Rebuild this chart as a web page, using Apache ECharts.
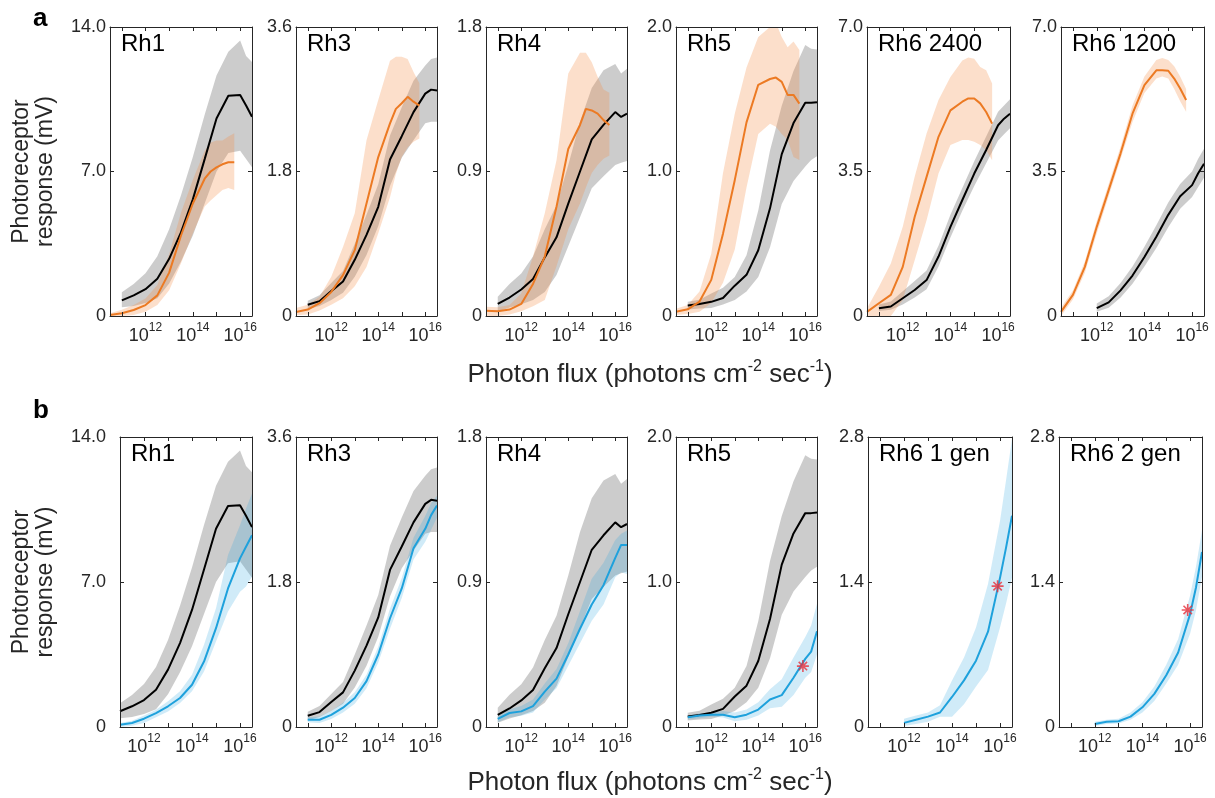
<!DOCTYPE html>
<html><head><meta charset="utf-8">
<script src="https://cdn.jsdelivr.net/npm/echarts@6/dist/echarts.min.js"></script>
<style>html,body{margin:0;padding:0;background:#fff}#c{width:1215px;height:798px}</style>
</head><body><div id="c"></div><script>
// ---------- x positions (log10 of photon flux) ----------
const X_BLACK  = [11, 11.5, 12, 12.5, 13, 13.5, 14, 14.5, 15, 15.5, 16, 16.25, 16.5];
const X_ORANGE = [10.5, 11, 11.5, 12, 12.5, 13, 13.5, 14, 14.5, 14.75, 15, 15.25, 15.5, 15.75];
const X_BLUE   = [11, 11.5, 12, 12.5, 13, 13.5, 14, 14.5, 15, 15.5, 16, 16.25, 16.5];
const X_RH6_12 = [12, 12.5, 13, 13.5, 14, 14.5, 15, 15.5, 16, 16.25, 16.5];
const X_TICKS = [11, 12, 13, 14, 15, 16];
const X_LABELS = [12, 14, 16];

// ---------- control (black) ----------
const RH1_K    = [0.76, 1.0, 1.3, 1.8, 2.77, 4.05, 5.65, 7.6, 9.57, 10.67, 10.7, 10.2, 9.65];
const RH1_K_HI = [1.15, 1.55, 2.07, 2.9, 4.2, 5.85, 7.7, 9.75, 11.65, 12.8, 13.35, 12.6, 12.3];
const RH1_K_LO = [0.42, 0.48, 0.63, 0.86, 1.58, 2.64, 3.9, 5.45, 7.0, 7.9, 8.0, 7.6, 7.2];
const RH3_K    = [0.14, 0.185, 0.31, 0.43, 0.7, 1.01, 1.36, 1.95, 2.24, 2.54, 2.77, 2.82, 2.81];
const RH3_K_HI = [0.19, 0.26, 0.41, 0.56, 0.9, 1.26, 1.64, 2.25, 2.6, 2.93, 3.12, 3.2, 3.22];
const RH3_K_LO = [0.085, 0.125, 0.2, 0.29, 0.49, 0.76, 1.12, 1.62, 1.97, 2.19, 2.4, 2.42, 2.42];
const RH4_K    = [0.075, 0.115, 0.165, 0.23, 0.365, 0.49, 0.7, 0.9, 1.1, 1.19, 1.27, 1.24, 1.26];
const RH4_K_HI = [0.12, 0.2, 0.265, 0.37, 0.54, 0.69, 0.94, 1.21, 1.42, 1.53, 1.57, 1.51, 1.54];
const RH4_K_LO = [0.026, 0.053, 0.073, 0.1, 0.15, 0.255, 0.435, 0.615, 0.795, 0.87, 0.94, 0.955, 0.965];
const RH5_K    = [0.072, 0.083, 0.098, 0.125, 0.21, 0.285, 0.455, 0.745, 1.12, 1.335, 1.475, 1.475, 1.48];
const RH5_K_HI = [0.098, 0.112, 0.155, 0.195, 0.27, 0.42, 0.73, 1.145, 1.455, 1.695, 1.875, 1.85, 1.845];
const RH5_K_LO = [0.045, 0.052, 0.056, 0.08, 0.11, 0.17, 0.27, 0.475, 0.775, 0.935, 1.035, 1.08, 1.105];
const RH6A_K    = [0.19, 0.23, 0.43, 0.63, 0.87, 1.44, 2.16, 2.81, 3.45, 4.02, 4.62, 4.78, 4.9];
const RH6A_K_HI = [0.28, 0.35, 0.6, 0.85, 1.1, 1.7, 2.45, 3.1, 3.75, 4.35, 4.95, 5.1, 5.25];
const RH6A_K_LO = [0.12, 0.15, 0.28, 0.45, 0.65, 1.2, 1.9, 2.55, 3.15, 3.7, 4.25, 4.4, 4.55];
const RH6B_K    = [0.19, 0.33, 0.62, 0.98, 1.43, 1.92, 2.45, 2.9, 3.17, 3.45, 3.69];
const RH6B_K_HI = [0.3, 0.48, 0.8, 1.2, 1.68, 2.2, 2.75, 3.2, 3.5, 3.8, 4.05];
const RH6B_K_LO = [0.1, 0.2, 0.45, 0.78, 1.2, 1.65, 2.15, 2.6, 2.88, 3.12, 3.35];

// ---------- panel a (orange) ----------
const RH1_O    = [0.05, 0.13, 0.29, 0.53, 1.0, 2.1, 3.9, 5.45, 6.65, 7.0, 7.2, 7.35, 7.45, 7.45];
const RH1_O_HI = [0.13, 0.3, 0.53, 0.85, 1.5, 3.0, 5.0, 6.6, 8.0, 8.4, 8.5, 8.5, 8.7, 8.85];
const RH1_O_LO = [0, 0, 0.05, 0.2, 0.53, 1.25, 2.55, 4.0, 5.3, 5.6, 5.85, 6.1, 6.2, 6.1];
const RH3_O    = [0.05, 0.08, 0.16, 0.3, 0.51, 0.82, 1.4, 1.98, 2.4, 2.58, 2.65, 2.73, 2.67, 2.62];
const RH3_O_HI = [0.1, 0.14, 0.24, 0.49, 0.86, 1.28, 2.19, 2.69, 3.18, 3.23, 3.23, 3.2, 3.04, 2.9];
const RH3_O_LO = [0.01, 0.02, 0.07, 0.14, 0.22, 0.37, 0.61, 1.03, 1.48, 1.77, 1.98, 2.1, 2.17, 2.21];
const RH4_O    = [0.033, 0.03, 0.04, 0.075, 0.2, 0.37, 0.68, 1.04, 1.19, 1.29, 1.28, 1.26, 1.22, 1.19];
const RH4_O_HI = [0.058, 0.054, 0.068, 0.14, 0.37, 0.64, 0.97, 1.51, 1.64, 1.64, 1.58, 1.49, 1.41, 1.39];
const RH4_O_LO = [0, 0, 0.01, 0.03, 0.06, 0.1, 0.31, 0.54, 0.7, 0.8, 0.89, 0.94, 0.98, 1.0];
const RH5_O    = [0.03, 0.046, 0.1, 0.25, 0.57, 0.94, 1.34, 1.6, 1.64, 1.65, 1.62, 1.53, 1.53, 1.47];
const RH5_O_HI = [0.05, 0.076, 0.17, 0.43, 0.99, 1.4, 1.72, 1.93, 2.0, 2.03, 1.93, 1.86, 1.9, 1.84];
const RH5_O_LO = [0.007, 0.014, 0.03, 0.09, 0.23, 0.46, 0.89, 1.26, 1.33, 1.31, 1.26, 1.22, 1.1, 1.08];
const RH6A_O    = [0.1, 0.31, 0.51, 1.19, 2.4, 3.37, 4.34, 4.98, 5.19, 5.27, 5.27, 5.15, 4.94, 4.66];
const RH6A_O_HI = [0.19, 0.71, 1.27, 2.16, 3.37, 4.42, 5.23, 5.79, 6.19, 6.26, 6.23, 6.03, 5.95, 5.63];
const RH6A_O_LO = [0, 0, 0, 0.39, 1.35, 2.32, 3.45, 4.14, 4.26, 4.26, 4.22, 4.14, 4.02, 3.77];
const RH6B_O    = [0.1, 0.51, 1.19, 2.16, 3.05, 3.94, 4.9, 5.59, 5.95, 5.95, 5.94, 5.75, 5.51, 5.23];
const RH6B_O_HI = [0.2, 0.62, 1.32, 2.3, 3.2, 4.1, 5.1, 5.8, 6.2, 6.25, 6.2, 6.05, 5.8, 5.5];
const RH6B_O_LO = [0.0, 0.4, 1.05, 2.0, 2.9, 3.8, 4.7, 5.4, 5.75, 5.8, 5.75, 5.5, 5.2, 4.95];

// ---------- panel b (blue) ----------
const RH1_B    = [0.11, 0.19, 0.4, 0.67, 1.0, 1.4, 2.04, 3.16, 4.77, 6.69, 8.14, 8.7, 9.26];
const RH1_B_HI = [0.19, 0.3, 0.56, 0.83, 1.24, 1.72, 2.52, 3.97, 5.73, 8.3, 9.74, 10.55, 11.27];
const RH1_B_LO = [0, 0.06, 0.19, 0.47, 0.75, 1.16, 1.72, 2.68, 4.13, 5.57, 6.53, 6.78, 7.26];
const RH3_B    = [0.09, 0.09, 0.15, 0.24, 0.36, 0.57, 0.9, 1.35, 1.72, 2.22, 2.46, 2.63, 2.75];
const RH3_B_HI = [0.12, 0.13, 0.2, 0.3, 0.43, 0.65, 1.0, 1.47, 1.85, 2.35, 2.62, 2.78, 2.87];
const RH3_B_LO = [0.06, 0.05, 0.1, 0.18, 0.29, 0.48, 0.8, 1.22, 1.6, 2.08, 2.3, 2.45, 2.6];
const RH4_B    = [0.05, 0.087, 0.097, 0.13, 0.22, 0.3, 0.45, 0.61, 0.76, 0.88, 1.05, 1.13, 1.13];
const RH4_B_HI = [0.07, 0.11, 0.13, 0.17, 0.27, 0.36, 0.52, 0.72, 0.92, 1.02, 1.16, 1.2, 1.22];
const RH4_B_LO = [0.03, 0.06, 0.07, 0.09, 0.17, 0.24, 0.38, 0.52, 0.66, 0.76, 0.93, 0.96, 0.95];
const RH5_B    = [0.067, 0.08, 0.085, 0.085, 0.067, 0.085, 0.12, 0.19, 0.22, 0.34, 0.47, 0.52, 0.66];
const RH5_B_HI = [0.08, 0.095, 0.1, 0.11, 0.1, 0.12, 0.17, 0.26, 0.33, 0.48, 0.62, 0.7, 0.85];
const RH5_B_LO = [0.05, 0.06, 0.07, 0.065, 0.04, 0.05, 0.08, 0.13, 0.14, 0.22, 0.34, 0.38, 0.5];
const RH6G1_B    = [0.04, 0.07, 0.1, 0.14, 0.29, 0.45, 0.64, 0.92, 1.44, 1.73, 2.04];
const RH6G1_B_HI = [0.08, 0.11, 0.14, 0.21, 0.45, 0.67, 0.96, 1.38, 1.99, 2.38, 2.78];
const RH6G1_B_LO = [0.01, 0.03, 0.05, 0.1, 0.1, 0.22, 0.39, 0.55, 0.96, 1.19, 1.44];
const RH6G2_B    = [0.03, 0.05, 0.055, 0.1, 0.19, 0.32, 0.5, 0.72, 1.09, 1.35, 1.69];
const RH6G2_B_HI = [0.05, 0.07, 0.08, 0.14, 0.24, 0.39, 0.6, 0.85, 1.27, 1.55, 1.9];
const RH6G2_B_LO = [0.01, 0.03, 0.035, 0.07, 0.14, 0.25, 0.42, 0.6, 0.9, 1.13, 1.45];

// red asterisks [log10 flux, mV]
const STAR_RH5 = [15.9, 0.42];
const STAR_RH6G1 = [15.9, 1.36];
const STAR_RH6G2 = [15.9, 1.13];

const TITLES_A = ['Rh1', 'Rh3', 'Rh4', 'Rh5', 'Rh6 2400', 'Rh6 1200'];
const TITLES_B = ['Rh1', 'Rh3', 'Rh4', 'Rh5', 'Rh6 1 gen', 'Rh6 2 gen'];
const Y_MAX_A = [14, 3.6, 1.8, 2.0, 7.0, 7.0];
const Y_MAX_B = [14, 3.6, 1.8, 2.0, 2.8, 2.8];

// ---------- styles / layout ----------
const FONT = '"Liberation Sans", Arial, Helvetica, sans-serif';
const TXT = '#262626';
const C = {
  black: '#000000', grayBand: 'rgba(128,128,128,0.40)',
  orange: '#EC7A23', orangeBand: 'rgba(244,140,70,0.28)',
  blue: '#1EA1DC', blueBand: 'rgba(40,165,225,0.22)', star: '#E8303A'
};
const ROWS = [{top: 27, height: 289}, {top: 437, height: 290}];
const LEFTS = [[110, 296, 486, 676, 867, 1061], [120, 296, 486, 676, 868, 1059]];
const WIDTHS = [[142, 141, 141, 141, 143, 143], [132, 141, 141, 141, 144, 143]];

const groupsA = [
  [[X_BLACK, RH1_K, RH1_K_LO, RH1_K_HI, 'k'], [X_ORANGE, RH1_O, RH1_O_LO, RH1_O_HI, 'o']],
  [[X_BLACK, RH3_K, RH3_K_LO, RH3_K_HI, 'k'], [X_ORANGE, RH3_O, RH3_O_LO, RH3_O_HI, 'o']],
  [[X_BLACK, RH4_K, RH4_K_LO, RH4_K_HI, 'k'], [X_ORANGE, RH4_O, RH4_O_LO, RH4_O_HI, 'o']],
  [[X_BLACK, RH5_K, RH5_K_LO, RH5_K_HI, 'k'], [X_ORANGE, RH5_O, RH5_O_LO, RH5_O_HI, 'o']],
  [[X_BLACK, RH6A_K, RH6A_K_LO, RH6A_K_HI, 'k'], [X_ORANGE, RH6A_O, RH6A_O_LO, RH6A_O_HI, 'o']],
  [[X_RH6_12, RH6B_K, RH6B_K_LO, RH6B_K_HI, 'k'], [X_ORANGE, RH6B_O, RH6B_O_LO, RH6B_O_HI, 'o']]
];
const groupsB = [
  [[X_BLACK, RH1_K, RH1_K_LO, RH1_K_HI, 'k'], [X_BLUE, RH1_B, RH1_B_LO, RH1_B_HI, 'b']],
  [[X_BLACK, RH3_K, RH3_K_LO, RH3_K_HI, 'k'], [X_BLUE, RH3_B, RH3_B_LO, RH3_B_HI, 'b']],
  [[X_BLACK, RH4_K, RH4_K_LO, RH4_K_HI, 'k'], [X_BLUE, RH4_B, RH4_B_LO, RH4_B_HI, 'b']],
  [[X_BLACK, RH5_K, RH5_K_LO, RH5_K_HI, 'k'], [X_BLUE, RH5_B, RH5_B_LO, RH5_B_HI, 'b']],
  [[X_RH6_12, RH6G1_B, RH6G1_B_LO, RH6G1_B_HI, 'b']],
  [[X_RH6_12, RH6G2_B, RH6G2_B_LO, RH6G2_B_HI, 'b']]
];
const starsB = [null, null, null, STAR_RH5, STAR_RH6G1, STAR_RH6G2];

const panels = [];
for (let r = 0; r < 2; r++) {
  for (let c = 0; c < 6; c++) {
    panels.push({
      row: r, left: LEFTS[r][c], width: WIDTHS[r][c],
      xmin: (r === 1 && c === 0) ? 11 : 10.5, xmax: 16.5,
      ymax: r === 0 ? Y_MAX_A[c] : Y_MAX_B[c],
      title: r === 0 ? TITLES_A[c] : TITLES_B[c],
      groups: r === 0 ? groupsA[c] : groupsB[c],
      star: r === 0 ? null : starsB[c],
      ylabMargin: (r === 1 && c === 0) ? 14 : 4
    });
  }
}

function bandSeries(xs, lo, hi, color, ax) {
  return {
    type: 'custom', xAxisIndex: ax, yAxisIndex: ax, silent: true, z: 1, animation: false,
    data: xs.map((x, k) => [x, lo[k], hi[k]]),
    encode: {x: 0, y: [1, 2]},
    renderItem: (params, api) => {
      if (params.dataIndex !== 0) return null;
      const upper = xs.map((x, k) => api.coord([x, hi[k]]));
      const lower = xs.map((x, k) => api.coord([x, lo[k]])).reverse();
      const cs = params.coordSys;
      return {
        type: 'polygon', shape: {points: upper.concat(lower)}, style: {fill: color, stroke: null},
        clipPath: {type: 'rect', shape: {x: cs.x, y: cs.y, width: cs.width, height: cs.height}}
      };
    }
  };
}

const grids = [], xAxes = [], yAxes = [], series = [], graphics = [];
const lineStyleAxis = {color: TXT, width: 1};
panels.forEach((p, i) => {
  const row = ROWS[p.row];
  grids.push({left: p.left, top: row.top, width: p.width, height: row.height, containLabel: false});
  const xBase = {gridIndex: i, type: 'value', min: p.xmin, max: p.xmax, z: 10,
    splitLine: {show: false}, axisLine: {show: true, onZero: false, lineStyle: lineStyleAxis}};
  xAxes.push(Object.assign({}, xBase, {position: 'bottom',
    axisTick: {show: true, inside: true, length: 4, customValues: X_TICKS, lineStyle: lineStyleAxis},
    axisLabel: {show: true, customValues: X_LABELS, margin: 6, color: TXT, fontFamily: FONT,
      formatter: v => '{b|10}{s|' + Math.round(v) + '}',
      rich: {b: {fontSize: 18, fontFamily: FONT, color: TXT, verticalAlign: 'bottom', lineHeight: 23},
             s: {fontSize: 12, fontFamily: FONT, color: TXT, verticalAlign: 'top', lineHeight: 23}}}}));
  xAxes.push(Object.assign({}, xBase, {position: 'top',
    axisTick: {show: true, inside: true, length: 4, customValues: X_TICKS, lineStyle: lineStyleAxis},
    axisLabel: {show: false}}));
  const yBase = {gridIndex: i, type: 'value', min: 0, max: p.ymax, interval: p.ymax / 2, z: 10,
    splitLine: {show: false}, axisLine: {show: true, onZero: false, lineStyle: lineStyleAxis},
    axisTick: {show: true, inside: true, length: 4, lineStyle: lineStyleAxis}};
  yAxes.push(Object.assign({}, yBase, {position: 'left',
    axisLabel: {show: true, margin: p.ylabMargin, color: TXT, fontSize: 18, fontFamily: FONT,
      formatter: v => (v === 0 ? '0' : v.toFixed(1))}}));
  yAxes.push(Object.assign({}, yBase, {position: 'right', axisLabel: {show: false}}));
  const ax = 2 * i;
  const bandColor = {k: C.grayBand, o: C.orangeBand, b: C.blueBand};
  const lineColor = {k: C.black, o: C.orange, b: C.blue};
  p.groups.forEach(g => {
    const [xs, , lo, hi, kind] = g;
    series.push(bandSeries(xs, lo, hi, bandColor[kind], ax));
  });
  p.groups.forEach(g => {
    const [xs, m, , , kind] = g;
    series.push({type: 'line', xAxisIndex: ax, yAxisIndex: ax, silent: true, z: 3,
      symbol: 'none', animation: false, lineStyle: {color: lineColor[kind], width: 2},
      data: xs.map((x, k) => [x, m[k]])});
  });
  if (p.star) {
    series.push({type: 'scatter', xAxisIndex: ax, yAxisIndex: ax, silent: true, z: 4, animation: false,
      symbol: 'path://M10,0L10,20M0,10L20,10M3,3L17,17M3,17L17,3', symbolSize: 12,
      itemStyle: {color: 'rgba(0,0,0,0)', borderColor: C.star, borderWidth: 1.6},
      data: [p.star]});
  }
  graphics.push({type: 'text', x: p.left + 11, y: row.top + 5,
    style: {text: p.title, font: '24px ' + FONT, fill: '#000', align: 'left', verticalAlign: 'top'}});
});

[['a', 6], ['b', 398]].forEach(([t, y]) => graphics.push({type: 'text', x: 33, y: y,
  style: {text: t, font: 'bold 26px ' + FONT, fill: '#000', align: 'left', verticalAlign: 'top'}}));
ROWS.forEach((row, r) => {
  graphics.push({type: 'text', x: 34, y: row.top + row.height / 2, rotation: Math.PI / 2,
    style: {text: 'Photoreceptor\nresponse (mV)', font: '23px ' + FONT, fill: TXT,
      align: 'center', verticalAlign: 'middle', lineHeight: 24}});
  graphics.push({type: 'text', x: 650, y: row.top + row.height + (r === 0 ? 57 : 54),
    style: {text: '{n|Photon flux (photons cm}{s|-2}{n| sec}{s|-1}{n|)}', align: 'center', verticalAlign: 'middle',
      rich: {n: {fontSize: 26, fontFamily: FONT, fill: TXT, color: TXT, verticalAlign: 'bottom', lineHeight: 29},
             s: {fontSize: 16, fontFamily: FONT, fill: TXT, color: TXT, verticalAlign: 'top', lineHeight: 29}}}});
});

const chart = echarts.init(document.getElementById('c'), null, {renderer: 'canvas'});
chart.setOption({
  backgroundColor: '#ffffff', animation: false,
  grid: grids, xAxis: xAxes, yAxis: yAxes, series: series, graphic: graphics
});
</script></body></html>
